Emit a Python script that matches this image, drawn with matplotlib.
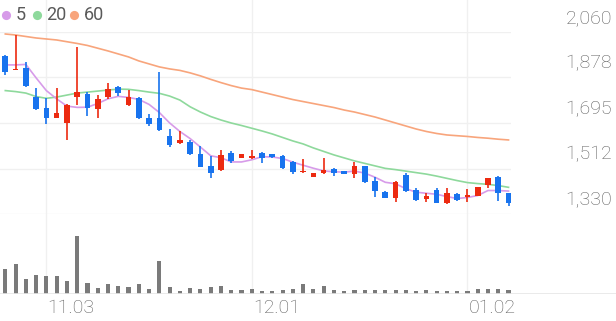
import matplotlib
matplotlib.use('Agg')
import matplotlib.pyplot as plt
import matplotlib.transforms as mtrans

# daily candles, oldest first
opens = [1964, 1908, 1914, 1800, 1756, 1716, 1694, 1798, 1810, 1751,
         1798, 1838, 1767, 1796, 1714, 1716, 1644, 1614, 1620, 1569,
         1522, 1506, 1573, 1556, 1553, 1576, 1571, 1563, 1537, 1497,
         1480, 1493, 1510, 1502, 1490, 1522, 1462, 1420, 1395, 1486,
         1426, 1389, 1426, 1373, 1409, 1397, 1402, 1446, 1477, 1413]
highs = [1966, 2048, 1940, 1837, 1796, 1834, 1770, 2001, 1820, 1807,
         1854, 1845, 1827, 1798, 1730, 1898, 1671, 1663, 1627, 1603,
         1564, 1587, 1583, 1572, 1587, 1578, 1572, 1567, 1543, 1551,
         1496, 1556, 1516, 1503, 1540, 1524, 1480, 1422, 1462, 1496,
         1436, 1416, 1436, 1436, 1413, 1429, 1440, 1476, 1484, 1415]
lows = [1887, 1906, 1839, 1747, 1690, 1714, 1627, 1767, 1724, 1714,
        1791, 1804, 1765, 1712, 1684, 1664, 1600, 1612, 1567, 1517,
        1473, 1504, 1536, 1554, 1551, 1533, 1553, 1512, 1490, 1496,
        1478, 1492, 1484, 1489, 1476, 1456, 1397, 1394, 1379, 1420,
        1383, 1379, 1373, 1372, 1383, 1379, 1401, 1433, 1383, 1363]
closes = [1901, 1912, 1845, 1750, 1716, 1736, 1767, 1819, 1754, 1790,
          1830, 1816, 1798, 1714, 1690, 1667, 1607, 1627, 1571, 1520,
          1493, 1567, 1543, 1571, 1563, 1556, 1560, 1513, 1497, 1502,
          1496, 1506, 1496, 1490, 1522, 1457, 1422, 1395, 1460, 1424,
          1386, 1401, 1375, 1413, 1386, 1406, 1440, 1476, 1413, 1375]
volume = [25, 30, 15, 19, 18, 18, 13, 58, 11, 6,
          10, 8, 7, 10, 5, 33, 7, 3, 6, 5,
          7, 8, 4, 4, 5, 3, 3, 4, 5, 10,
          5, 8, 4, 3, 4, 4, 4, 4, 4, 4,
          3, 4, 3, 3, 3, 3.5, 5, 5, 5, 4]

# moving averages (first MA5 points need earlier closes)
ma5_head = [1928, 1928, 1930, 1876]
ma20 = [1825, 1821, 1815, 1801, 1794, 1799, 1807, 1815, 1819, 1823,
        1827, 1831, 1830, 1825, 1819, 1814, 1803, 1787, 1760, 1739,
        1721, 1707, 1695, 1685, 1674, 1663, 1651, 1637, 1623, 1611,
        1595, 1581, 1567, 1555, 1543, 1533, 1523, 1513, 1508, 1502,
        1496, 1490, 1482, 1473, 1464, 1456, 1452, 1449, 1444, 1437]
ma60 = [2052, 2048, 2042, 2036, 2032, 2028, 2021, 2014, 2006, 1995,
        1984, 1972, 1960, 1944, 1932, 1920, 1912, 1906, 1896, 1884,
        1870, 1857, 1845, 1835, 1829, 1819, 1809, 1799, 1789, 1781,
        1773, 1765, 1757, 1747, 1739, 1729, 1719, 1707, 1695, 1683,
        1671, 1661, 1653, 1647, 1644, 1641, 1637, 1634, 1630, 1627]

date_ticks = [4, 24, 45]
date_labels = ['11.03', '12.01', '01.02']
price_ticks = [1330, 1512, 1695, 1878, 2060]
ma_labels = ['5', '20', '60']

UP = '#ec2a10'
DOWN = '#1873ee'
C5, C20, C60 = '#d79be9', '#8ed99c', '#f8a57c'
GRID = '#f0f0f0'
TXT = '#5e5e5e'

ma5 = list(ma5_head)
for i in range(4, len(closes)):
    ma5.append(sum(closes[i - 4:i + 1]) / 5)

W, H = 616, 321
fig = plt.figure(figsize=(W / 100, H / 100), dpi=100)
plt.rcParams['font.family'] = ['Roboto', 'DejaVu Sans']

x0, step = 5.3, 10.27
def xl(p0, p1):
    return ((p0 - x0) / step, (p1 - x0) / step)

# background for vertical grid lines
bg = fig.add_axes([0, 1 - 294 / H, 511 / W, 294 / H], zorder=0)
bg.set_xlim(*xl(0, 511))
bg.axis('off')
for t in date_ticks:
    bg.axvline(t, color=GRID, lw=1)

ax = fig.add_axes([0, 1 - 214 / H, 511 / W, (214 - 32) / H], zorder=1)
ax.patch.set_alpha(0)
ax.set_xlim(*xl(0, 511))
ax.set_ylim(1330, 2060)
for s in ax.spines.values():
    s.set_visible(False)
ax.set_yticks(price_ticks)
ax.set_xticks([])
ax.tick_params(left=False, labelleft=False)
ax.grid(axis='y', color=GRID, lw=1)

n = len(closes)
xs = list(range(n))
ax.plot(xs, ma60, color=C60, lw=1.2, zorder=2)
ax.plot(xs, ma20, color=C20, lw=1.2, zorder=2)
ax.plot(xs, ma5, color=C5, lw=1.2, zorder=2)

for i in range(n):
    o, h, l, c = opens[i], highs[i], lows[i], closes[i]
    col = UP if c >= o else DOWN
    ax.vlines(i, l, h, color=col, lw=1.2, zorder=3)
    ax.bar(i, max(abs(c - o), 4), bottom=min(o, c), width=0.55, color=col, zorder=4)

trans = mtrans.offset_copy(ax.get_yaxis_transform(), fig=fig, y=14, units='dots')
for t in price_ticks:
    ax.text(612 / 511, t, f'{t:,}', transform=trans, ha='right', va='center',
            fontsize=14, color=TXT, fontweight='light')

# volume panel
vol = fig.add_axes([0, 1 - 294 / H, 1, 70 / H], zorder=1)
vol.patch.set_alpha(0)
vol.set_xlim(*xl(0, 616))
vol.set_ylim(0, 70)
vol.axis('off')
vol.bar(xs, volume, width=0.4, color='#7a7a7a')
vol.axhline(0, color='#e6e6e6', lw=1.2)

dtrans = mtrans.offset_copy(vol.get_xaxis_transform(), fig=fig, x=1, y=-14, units='dots')
for t, lab in zip(date_ticks, date_labels):
    vol.text(t, 0, lab, transform=dtrans, ha='left', va='center',
             fontsize=14, color=TXT, fontweight='light')

# legend row, laid out in pixel units on an overlay
top = fig.add_axes([0, 0, 1, 1], zorder=5)
top.set_xlim(0, W)
top.set_ylim(H, 0)
top.axis('off')
for cx, col, lab in zip([6, 37, 74], [C5, C20, C60], ma_labels):
    top.plot(cx, 15, 'o', color=col, markersize=6.6, markeredgewidth=0)
    top.text(cx + 9.5, 15.5, lab, ha='left', va='center', fontsize=13, color='#5a5a5a')

fig.savefig('out.png', dpi=100)
